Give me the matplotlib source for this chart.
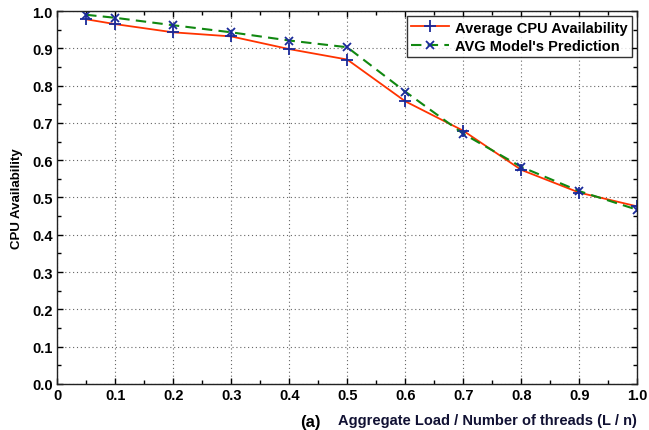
import matplotlib.pyplot as plt
from matplotlib.ticker import MultipleLocator

# Load ratio (L / n) and measured vs. predicted CPU availability
load = [0.05, 0.1, 0.2, 0.3, 0.4, 0.5, 0.6, 0.7, 0.8, 0.9, 1.0]
avg_cpu = [0.978, 0.965, 0.943, 0.932, 0.898, 0.870, 0.758, 0.679, 0.574, 0.513, 0.476]
avg_model = [0.990, 0.982, 0.962, 0.943, 0.921, 0.903, 0.784, 0.671, 0.582, 0.517, 0.467]

x_ticks = [i / 10 for i in range(11)]
x_labels = ['0'] + [f'{i / 10:.1f}' for i in range(1, 11)]
y_ticks = [i / 10 for i in range(11)]
y_labels = [f'{i / 10:.1f}' for i in range(11)]

plt.rcParams['font.family'] = ['Liberation Sans', 'DejaVu Sans']

fig = plt.figure(figsize=(6.49, 4.31), dpi=100)
ax = fig.add_axes([0.088, 0.107, 0.894, 0.865])

ax.plot(load, avg_cpu, color='#ff3300', linewidth=1.3, marker='+', markersize=8,
        markeredgecolor='#1a2a9a', markeredgewidth=1.3, label='Average CPU Availability')
ax.plot(load, avg_model, color='#118811', linewidth=1.5, linestyle=(0, (5, 3)), marker='x',
        markersize=6, markeredgecolor='#1a2a9a', markeredgewidth=1.3,
        label="AVG Model's Prediction")

ax.set_xlim(0, 1.0)
ax.set_ylim(0, 1.0)
ax.set_xticks(x_ticks)
ax.set_xticklabels(x_labels)
ax.set_yticks(y_ticks)
ax.set_yticklabels(y_labels)
ax.xaxis.set_minor_locator(MultipleLocator(0.05))
ax.yaxis.set_minor_locator(MultipleLocator(0.05))
ax.tick_params(which='both', direction='in', top=True, right=True, width=1.0)
ax.tick_params(which='major', length=4, labelsize=10.5, pad=3)
ax.tick_params(which='minor', length=3)
for lbl in ax.get_xticklabels() + ax.get_yticklabels():
    lbl.set_fontweight('bold')
for s in ax.spines.values():
    s.set_linewidth(1.0)
    s.set_color('#222222')

ax.grid(True, which='major', linestyle=(0, (1, 2.5)), color='#666666', linewidth=0.8)

ax.set_ylabel('CPU Availability', fontsize=9.5, fontweight='bold')
ax.yaxis.set_label_coords(-0.058, 0.5)
ax.set_xlabel('Aggregate Load / Number of threads (L / n)', fontsize=10.5,
              fontweight='bold', color='#111133')
ax.xaxis.set_label_coords(1.0, -0.078)
ax.xaxis.label.set_horizontalalignment('right')

leg = ax.legend(loc='upper right', fontsize=10.5, frameon=True, fancybox=False,
                borderpad=0.3, labelspacing=0.3, handlelength=2.6, handletextpad=0.4,
                borderaxespad=0.35)
leg.get_frame().set_edgecolor('black')
leg.get_frame().set_linewidth(1.0)
for t in leg.get_texts():
    t.set_fontweight('bold')

fig.text(0.478, 0.002, '(a)', fontsize=12, fontweight='bold', ha='center', va='bottom')

fig.savefig('out.png', dpi=100)
